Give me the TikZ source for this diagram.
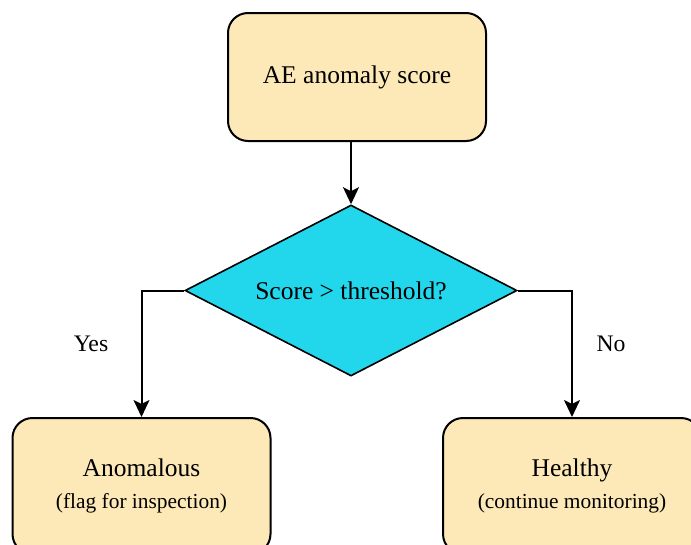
\documentclass[tikz,border=0pt]{standalone}
\usepackage{fontspec}
\setmainfont{Liberation Serif}
\usetikzlibrary{shapes.geometric,arrows.meta}
\definecolor{boxfill}{RGB}{253,233,184}
\definecolor{decfill}{RGB}{34,214,236}
\begin{document}
\begin{tikzpicture}[x=1pt,y=-1pt,
  every node/.style={font=\fontsize{25.5}{30}\selectfont},
  stagebox/.style={draw=black,line width=2pt,fill=boxfill,rounded corners=20pt,
    minimum width=258pt,minimum height=128pt,inner sep=0pt,align=center},
  decision/.style={draw=black,line width=1.6pt,fill=decfill,diamond,shape aspect=1.94,
    minimum width=332pt,minimum height=171pt,inner sep=0pt},
  flow/.style={line width=2pt,-{Stealth[length=17pt,width=16pt,inset=4pt]}},
  branch/.style={font=\fontsize{23.7}{28}\selectfont}]
  \useasboundingbox (0,0) rectangle (691,544);

  \node[stagebox] (score) at (357,77) {AE anomaly score};
  \node[decision] (test) at (351,290.5) {Score > threshold?};
  \node[stagebox,minimum height=136pt] (anom) at (141.5,486)
    {Anomalous\\[2pt]{\fontsize{21.4}{25}\selectfont (flag for inspection)}};
  \node[stagebox,minimum height=136pt] (ok) at (572,486)
    {Healthy\\[2pt]{\fontsize{21.4}{25}\selectfont (continue monitoring)}};

  \draw[flow] (score.south -| test.north) -- (test.north);
  \draw[flow] (test.west) -| (anom.north);
  \draw[flow] (test.east) -| (ok.north);

  \node[branch] (yes) at (91,344) {Yes};
  \node[branch] (no) at (611,344) {No};
\end{tikzpicture}
\end{document}
